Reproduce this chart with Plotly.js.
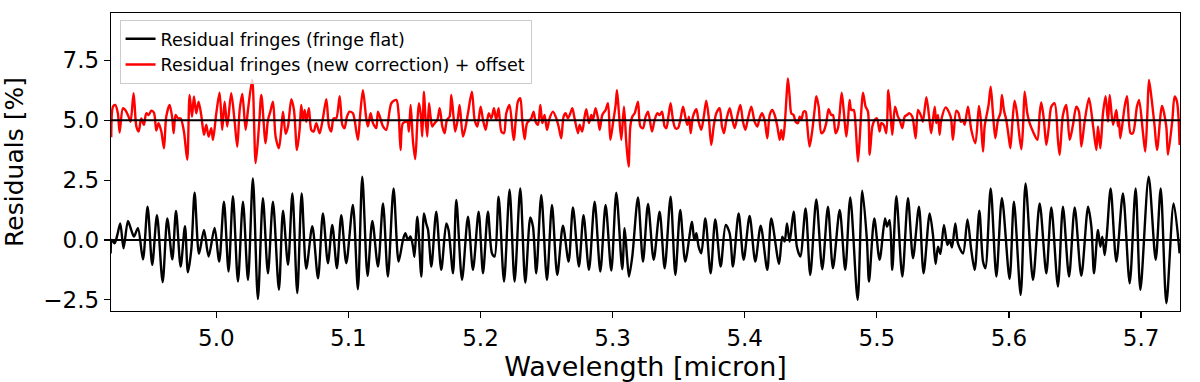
<!DOCTYPE html>
<html>
<head>
<meta charset="utf-8">
<script src="https://cdn.plot.ly/plotly-3.0.1.min.js"></script>
<style>
  html, body { margin: 0; padding: 0; background: #fff; }
  #grafico { width: 1200px; height: 382px; }
</style>
</head>
<body>
<div id="grafico"></div>
<script>
// Residual fringes (peaks and troughs), wavelength in micron, residuals in %
const flatWl = [
  4.9200, 4.9210, 4.9230, 4.9251, 4.9273, 4.9298, 4.9331, 4.9356, 4.9377, 4.9407,
  4.9445, 4.9480, 4.9515, 4.9551, 4.9594, 4.9629, 4.9667, 4.9695, 4.9730, 4.9763,
  4.9785, 4.9811, 4.9836, 4.9869, 4.9907, 4.9942, 4.9987, 5.0022, 5.0058, 5.0093,
  5.0126, 5.0164, 5.0202, 5.0240, 5.0277, 5.0315, 5.0353, 5.0391, 5.0429, 5.0474,
  5.0505, 5.0543, 5.0576, 5.0613, 5.0646, 5.0681, 5.0727, 5.0770, 5.0807, 5.0845,
  5.0878, 5.0913, 5.0946, 5.0984, 5.1034, 5.1072, 5.1105, 5.1145, 5.1181, 5.1224,
  5.1262, 5.1299, 5.1342, 5.1380, 5.1413, 5.1431, 5.1451, 5.1470, 5.1489, 5.1500,
  5.1522, 5.1552, 5.1572, 5.1589, 5.1603, 5.1628, 5.1665, 5.1703, 5.1741, 5.1758,
  5.1792, 5.1817, 5.1860, 5.1905, 5.1943, 5.1986, 5.2019, 5.2056, 5.2087, 5.2107,
  5.2137, 5.2178, 5.2220, 5.2258, 5.2301, 5.2339, 5.2377, 5.2397, 5.2422, 5.2460,
  5.2503, 5.2541, 5.2581, 5.2624, 5.2667, 5.2700, 5.2745, 5.2780, 5.2821, 5.2864,
  5.2907, 5.2947, 5.2990, 5.3028, 5.3073, 5.3091, 5.3109, 5.3124, 5.3149, 5.3192,
  5.3230, 5.3268, 5.3311, 5.3356, 5.3394, 5.3439, 5.3475, 5.3512, 5.3550, 5.3601,
  5.3618, 5.3634, 5.3651, 5.3671, 5.3702, 5.3742, 5.3777, 5.3818, 5.3856, 5.3886,
  5.3911, 5.3954, 5.3992, 5.4037, 5.4080, 5.4121, 5.4171, 5.4201, 5.4260, 5.4284,
  5.4302, 5.4320, 5.4340, 5.4370, 5.4395, 5.4421, 5.4461, 5.4496, 5.4542, 5.4587,
  5.4630, 5.4668, 5.4719, 5.4761, 5.4799, 5.4855, 5.4890, 5.4925, 5.4941, 5.4981,
  5.5021, 5.5062, 5.5077, 5.5097, 5.5117, 5.5148, 5.5193, 5.5236, 5.5274, 5.5319,
  5.5354, 5.5400, 5.5425, 5.5445, 5.5463, 5.5481, 5.5508, 5.5534, 5.5551, 5.5569,
  5.5594, 5.5614, 5.5653, 5.5686, 5.5715, 5.5741, 5.5776, 5.5804, 5.5822, 5.5862,
  5.5905, 5.5947, 5.6005, 5.6038, 5.6089, 5.6126, 5.6182, 5.6233, 5.6283, 5.6321,
  5.6371, 5.6409, 5.6455, 5.6498, 5.6548, 5.6599, 5.6624, 5.6644, 5.6674, 5.6692,
  5.6707, 5.6725, 5.6742, 5.6770, 5.6813, 5.6863, 5.6914, 5.6959, 5.6995, 5.7058,
  5.7111, 5.7149, 5.7192, 5.7247, 5.7292
];
const flatRes = [
  -0.56, 0.00, -0.14, 0.21, 0.69, -0.35, 0.79, 0.42, 0.14, 0.49,
  -0.81, 1.39, -1.04, 1.04, -1.76, 0.90, -0.81, 1.21, -1.11, 0.58,
  -1.35, -0.39, 1.97, -0.58, 0.42, -0.69, 0.50, -0.90, 1.60, -1.32,
  1.83, -1.74, 1.60, -1.67, 2.57, -2.47, 1.74, -1.39, 1.60, -2.08,
  1.22, -1.04, 1.94, -2.22, 1.94, -1.20, 0.58, -1.60, 1.11, -0.97,
  0.63, -1.18, 1.04, -0.97, 1.46, -2.06, 2.64, -1.50, 0.80, -1.11,
  1.53, -1.53, 2.15, -0.90, 0.00, 0.28, 0.00, 0.15, -0.28, -0.70,
  0.97, -1.53, 1.11, 0.69, 0.42, -1.11, 1.18, -1.25, 0.69, 0.42,
  -1.39, 1.67, -1.67, 0.97, -1.25, 1.18, -1.39, 1.18, -0.56, -0.69,
  1.81, -1.74, 2.10, -1.74, 2.15, -1.78, 0.94, 0.56, -1.39, 1.88,
  -1.67, 1.46, -1.46, 0.60, -0.90, 1.36, -1.11, 1.04, -1.25, 1.60,
  -1.32, 1.46, -1.28, 1.97, -1.22, 0.49, -0.69, -1.53, -0.69, 1.78,
  -0.90, 1.50, -0.83, 1.18, -1.18, 1.81, -1.46, 1.25, -0.90, 0.76,
  0.00, 0.28, -0.28, -0.56, 0.90, -1.39, 0.86, -1.11, 0.63, 0.28,
  -1.11, 1.11, -0.83, 1.00, -0.90, 0.60, -1.25, 0.90, -1.00, 0.14,
  -0.07, 0.69, -0.07, 1.18, -0.28, -0.69, 1.32, -1.46, 1.69, -1.22,
  1.39, -1.18, 1.25, -1.25, 1.78, -2.50, 2.06, 0.00, -1.74, 0.90,
  -0.83, 0.90, 0.56, 0.83, -1.25, 1.83, -1.53, 1.74, -0.76, 1.39,
  -1.39, 1.11, 0.21, -1.00, -0.28, -0.58, 0.63, -0.21, 0.00, -0.31,
  0.69, -0.14, -0.56, 0.86, -0.42, -1.25, 1.22, -0.90, -1.18, 2.15,
  -1.53, 1.76, -1.63, 1.60, -2.29, 2.36, -1.67, 1.53, -1.39, 1.36,
  -1.94, 1.39, -1.53, 1.36, -1.50, 1.39, 0.56, -1.39, 0.42, -0.28,
  0.14, -0.63, 0.28, 2.15, -0.90, 1.94, -1.81, 2.15, -2.08, 2.64,
  -0.83, 2.15, -2.64, 1.53, -0.56
];

const newWl = [
  4.9205, 4.9218, 4.9235, 4.9255, 4.9268, 4.9293, 4.9311, 4.9336, 4.9351, 4.9374,
  4.9395, 4.9412, 4.9432, 4.9452, 4.9470, 4.9488, 4.9508, 4.9528, 4.9546, 4.9563,
  4.9584, 4.9604, 4.9621, 4.9647, 4.9667, 4.9677, 4.9692, 4.9710, 4.9730, 4.9755,
  4.9780, 4.9798, 4.9816, 4.9831, 4.9848, 4.9866, 4.9886, 4.9907, 4.9924, 4.9942,
  4.9962, 4.9975, 5.0000, 5.0025, 5.0045, 5.0063, 5.0083, 5.0113, 5.0139, 5.0159,
  5.0177, 5.0197, 5.0222, 5.0240, 5.0272, 5.0298, 5.0323, 5.0341, 5.0373, 5.0391,
  5.0409, 5.0429, 5.0449, 5.0474, 5.0492, 5.0505, 5.0525, 5.0543, 5.0568, 5.0588,
  5.0611, 5.0631, 5.0643, 5.0656, 5.0669, 5.0681, 5.0701, 5.0719, 5.0737, 5.0757,
  5.0782, 5.0807, 5.0833, 5.0853, 5.0870, 5.0888, 5.0908, 5.0934, 5.0954, 5.0971,
  5.0989, 5.1009, 5.1034, 5.1047, 5.1072, 5.1090, 5.1110, 5.1135, 5.1148, 5.1168,
  5.1186, 5.1211, 5.1224, 5.1262, 5.1287, 5.1325, 5.1363, 5.1380, 5.1395, 5.1413,
  5.1446, 5.1458, 5.1471, 5.1489, 5.1506, 5.1522, 5.1534, 5.1547, 5.1559, 5.1572,
  5.1582, 5.1597, 5.1610, 5.1622, 5.1635, 5.1653, 5.1673, 5.1691, 5.1711, 5.1728,
  5.1746, 5.1766, 5.1779, 5.1797, 5.1809, 5.1829, 5.1842, 5.1867, 5.1885, 5.1905,
  5.1935, 5.1956, 5.1976, 5.2001, 5.2019, 5.2039, 5.2062, 5.2082, 5.2102, 5.2119,
  5.2137, 5.2158, 5.2178, 5.2195, 5.2220, 5.2251, 5.2283, 5.2301, 5.2316, 5.2334,
  5.2352, 5.2384, 5.2402, 5.2417, 5.2435, 5.2453, 5.2468, 5.2485, 5.2503, 5.2523,
  5.2548, 5.2574, 5.2594, 5.2611, 5.2629, 5.2644, 5.2662, 5.2680, 5.2695, 5.2712,
  5.2738, 5.2750, 5.2770, 5.2788, 5.2801, 5.2821, 5.2839, 5.2851, 5.2871, 5.2889,
  5.2902, 5.2922, 5.2947, 5.2965, 5.2983, 5.3003, 5.3023, 5.3033, 5.3048, 5.3066,
  5.3086, 5.3104, 5.3121, 5.3134, 5.3149, 5.3167, 5.3192, 5.3210, 5.3230, 5.3250,
  5.3268, 5.3298, 5.3318, 5.3338, 5.3356, 5.3374, 5.3394, 5.3407, 5.3424, 5.3439,
  5.3457, 5.3475, 5.3495, 5.3515, 5.3533, 5.3550, 5.3565, 5.3578, 5.3591, 5.3608,
  5.3634, 5.3651, 5.3671, 5.3692, 5.3709, 5.3727, 5.3747, 5.3765, 5.3785, 5.3810,
  5.3828, 5.3843, 5.3861, 5.3886, 5.3904, 5.3924, 5.3949, 5.3967, 5.3987, 5.4005,
  5.4025, 5.4050, 5.4075, 5.4095, 5.4113, 5.4131, 5.4151, 5.4171, 5.4189, 5.4209,
  5.4227, 5.4247, 5.4265, 5.4277, 5.4290, 5.4302, 5.4315, 5.4327, 5.4340, 5.4353,
  5.4370, 5.4385, 5.4403, 5.4416, 5.4428, 5.4446, 5.4461, 5.4471, 5.4491, 5.4512,
  5.4529, 5.4542, 5.4560, 5.4580, 5.4597, 5.4617, 5.4635, 5.4655, 5.4668, 5.4688,
  5.4706, 5.4719, 5.4734, 5.4749, 5.4769, 5.4782, 5.4794, 5.4807, 5.4825, 5.4840,
  5.4857, 5.4870, 5.4883, 5.4895, 5.4915, 5.4933, 5.4946, 5.4966, 5.4984, 5.5001,
  5.5021, 5.5034, 5.5052, 5.5072, 5.5087, 5.5102, 5.5117, 5.5138, 5.5160, 5.5173,
  5.5193, 5.5211, 5.5228, 5.5248, 5.5269, 5.5294, 5.5312, 5.5337, 5.5349, 5.5375,
  5.5400, 5.5412, 5.5438, 5.5450, 5.5463, 5.5475, 5.5488, 5.5521, 5.5559, 5.5576,
  5.5602, 5.5619, 5.5635, 5.5652, 5.5665, 5.5690, 5.5715, 5.5746, 5.5773, 5.5786,
  5.5804, 5.5816, 5.5829, 5.5846, 5.5862, 5.5879, 5.5897, 5.5917, 5.5935, 5.5947,
  5.5962, 5.5980, 5.5998, 5.6011, 5.6026, 5.6043, 5.6061, 5.6074, 5.6094, 5.6107,
  5.6119, 5.6139, 5.6157, 5.6182, 5.6215, 5.6233, 5.6245, 5.6265, 5.6283, 5.6301,
  5.6321, 5.6346, 5.6371, 5.6384, 5.6409, 5.6434, 5.6460, 5.6485, 5.6510, 5.6530,
  5.6548, 5.6573, 5.6606, 5.6636, 5.6662, 5.6674, 5.6692, 5.6712, 5.6732, 5.6750,
  5.6763, 5.6788, 5.6813, 5.6826, 5.6833, 5.6843, 5.6876, 5.6894, 5.6921, 5.6939,
  5.6969, 5.6985, 5.7015, 5.7032, 5.7048, 5.7060, 5.7078, 5.7103, 5.7121, 5.7159,
  5.7191, 5.7204, 5.7237, 5.7254, 5.7272, 5.7292
];
// new correction, already shifted by the +5 % offset
const newRes = [
  4.29, 5.57, 5.64, 5.29, 4.49, 5.50, 5.43, 5.15, 4.94, 6.13,
  4.74, 4.53, 5.08, 4.81, 5.29, 5.22, 5.40, 5.32, 4.57, 4.88,
  4.53, 3.83, 5.15, 5.64, 5.08, 4.46, 5.22, 5.08, 5.08, 4.53,
  3.35, 6.06, 5.15, 5.99, 5.29, 5.78, 5.22, 4.39, 4.81, 4.32,
  4.67, 4.18, 5.29, 6.15, 4.60, 5.78, 4.74, 6.13, 4.94, 3.90,
  5.43, 6.10, 4.60, 5.43, 6.68, 3.21, 4.74, 6.06, 4.04, 5.01,
  5.36, 5.78, 4.32, 3.83, 4.63, 5.36, 4.43, 4.74, 5.88, 5.43,
  3.76, 4.63, 5.64, 5.01, 5.43, 4.94, 5.50, 4.60, 4.53, 4.88,
  4.46, 5.08, 5.88, 4.74, 4.53, 5.08, 5.08, 6.01, 4.81, 4.67,
  5.15, 5.36, 5.29, 5.01, 4.18, 5.29, 6.26, 5.08, 4.74, 5.29,
  4.88, 4.67, 5.36, 4.74, 4.60, 5.71, 5.85, 5.29, 3.76, 4.88,
  4.94, 4.53, 5.64, 4.11, 3.38, 4.94, 5.71, 5.29, 4.32, 6.19,
  5.22, 4.32, 5.71, 5.15, 4.74, 4.88, 5.01, 5.50, 4.74, 4.46,
  5.01, 5.15, 6.06, 5.08, 4.53, 5.08, 5.64, 4.32, 4.67, 5.29,
  6.19, 5.01, 4.74, 5.57, 5.01, 4.60, 5.29, 5.08, 5.50, 5.01,
  5.50, 4.53, 4.46, 5.29, 5.64, 4.18, 5.78, 5.92, 5.01, 4.21,
  4.88, 5.08, 5.36, 4.94, 4.81, 5.64, 4.88, 5.22, 4.60, 5.08,
  5.36, 5.08, 4.67, 4.25, 5.15, 5.29, 5.08, 5.29, 5.50, 5.08,
  4.46, 4.81, 4.53, 5.15, 5.46, 4.88, 5.22, 5.01, 5.50, 5.08,
  4.60, 5.22, 5.43, 5.71, 4.18, 4.88, 5.64, 6.26, 5.29, 4.18,
  5.57, 4.04, 3.07, 4.74, 5.15, 5.29, 5.78, 4.74, 4.67, 5.15,
  5.36, 4.53, 5.01, 5.29, 5.22, 5.36, 4.74, 4.67, 5.22, 5.71,
  5.01, 4.67, 4.67, 5.08, 5.57, 5.15, 4.81, 5.15, 4.46, 5.15,
  5.46, 4.94, 4.60, 5.22, 5.82, 5.15, 3.97, 4.74, 5.29, 5.50,
  4.74, 4.46, 5.01, 5.50, 5.08, 4.67, 5.29, 5.64, 4.94, 4.60,
  5.08, 5.57, 4.94, 4.74, 5.08, 5.29, 5.01, 4.25, 5.22, 5.43,
  5.22, 4.74, 4.18, 4.60, 4.18, 4.74, 5.85, 6.75, 6.00, 5.29,
  5.22, 4.94, 4.88, 5.15, 5.01, 5.36, 5.36, 4.94, 3.90, 4.60,
  5.43, 6.01, 5.57, 4.46, 4.53, 4.88, 5.46, 5.22, 5.22, 4.46,
  4.67, 5.29, 6.15, 5.43, 4.32, 5.01, 5.85, 5.43, 5.43, 4.74,
  3.28, 4.18, 5.43, 6.15, 5.57, 5.36, 3.56, 4.74, 5.01, 5.08,
  4.53, 4.88, 4.81, 4.46, 6.26, 5.43, 4.39, 5.57, 5.15, 5.01,
  4.67, 5.15, 5.22, 5.29, 5.15, 4.25, 5.43, 5.15, 4.94, 5.96,
  4.94, 4.46, 5.57, 4.88, 5.22, 4.39, 5.01, 5.54, 5.15, 4.18,
  5.40, 5.29, 4.94, 5.01, 4.81, 5.57, 4.60, 4.04, 5.60, 5.08,
  3.69, 4.74, 5.15, 5.64, 6.40, 5.29, 4.25, 5.01, 5.29, 6.06,
  5.43, 5.01, 4.32, 3.83, 4.88, 5.82, 5.29, 4.60, 3.79, 4.74,
  6.19, 5.29, 4.88, 4.53, 4.18, 5.29, 5.74, 5.01, 3.97, 4.67,
  5.57, 5.71, 4.18, 3.56, 5.22, 5.64, 4.18, 4.81, 5.57, 5.36,
  3.90, 4.94, 5.92, 4.81, 3.76, 4.74, 3.83, 5.29, 6.01, 4.94,
  6.06, 4.81, 5.43, 4.74, 5.01, 4.25, 5.57, 6.01, 4.46, 4.46,
  5.57, 5.85, 4.46, 3.69, 5.29, 6.68, 5.99, 4.74, 3.76, 5.60,
  4.74, 3.56, 5.01, 5.99, 5.78, 3.97
];

const seriesNames = ['Residual fringes (fringe flat)', 'Residual fringes (new correction) + offset'];
const seriesColors = ['#000000', '#ff0000'];
const referenceLevels = [0, 5];   // zero level of each curve
const yTicks = [-2.5, 0, 2.5, 5, 7.5];
const xTicks = [5.0, 5.1, 5.2, 5.3, 5.4, 5.5, 5.6, 5.7];

const fonte = 'DejaVu Sans, sans-serif';

const traces = [
  { x: flatWl, y: flatRes },
  { x: newWl, y: newRes }
].map((d, i) => ({
  x: d.x,
  y: d.y,
  type: 'scatter',
  mode: 'lines',
  name: seriesNames[i],
  line: { color: seriesColors[i], width: 2.4, shape: 'spline', smoothing: 0.8 }
}));

const shapes = referenceLevels.map(v => ({
  type: 'line',
  xref: 'paper', x0: 0, x1: 1,
  yref: 'y', y0: v, y1: v,
  line: { color: '#000000', width: 2 },
  layer: 'above'
}));

const layout = {
  width: 1200,
  height: 382,
  margin: { l: 111, r: 20, t: 13, b: 71 },
  paper_bgcolor: '#ffffff',
  plot_bgcolor: '#ffffff',
  font: { family: fonte, color: '#000000' },
  showlegend: true,
  legend: {
    x: 0.008, y: 0.977, xanchor: 'left', yanchor: 'top',
    bgcolor: 'rgba(255,255,255,0.8)',
    bordercolor: '#cccccc',
    borderwidth: 1,
    font: { family: fonte, size: 17.5, color: '#000000' },
    tracegroupgap: 0
  },
  xaxis: {
    range: [4.9203, 5.7295],
    tickvals: xTicks,
    tickformat: '.1f',
    ticks: 'outside',
    ticklen: 6,
    tickwidth: 1.2,
    tickcolor: '#000000',
    tickfont: { family: fonte, size: 23, color: '#000000' },
    showgrid: false,
    zeroline: false,
    showline: true,
    linecolor: '#000000',
    linewidth: 1.2,
    mirror: true,
    title: { text: 'Wavelength [micron]', font: { family: fonte, size: 27, color: '#000000' }, standoff: 6 }
  },
  yaxis: {
    range: [-2.966, 9.48],
    tickvals: yTicks,
    tickformat: '.1f',
    ticks: 'outside',
    ticklen: 6,
    tickwidth: 1.2,
    tickcolor: '#000000',
    tickfont: { family: fonte, size: 23, color: '#000000' },
    showgrid: false,
    zeroline: false,
    showline: true,
    linecolor: '#000000',
    linewidth: 1.2,
    mirror: true,
    title: { text: 'Residuals [%]', font: { family: fonte, size: 25, color: '#000000' }, standoff: 14 }
  },
  shapes: shapes
};

Plotly.newPlot('grafico', traces, layout, { staticPlot: true, displayModeBar: false });
</script>
</body>
</html>
